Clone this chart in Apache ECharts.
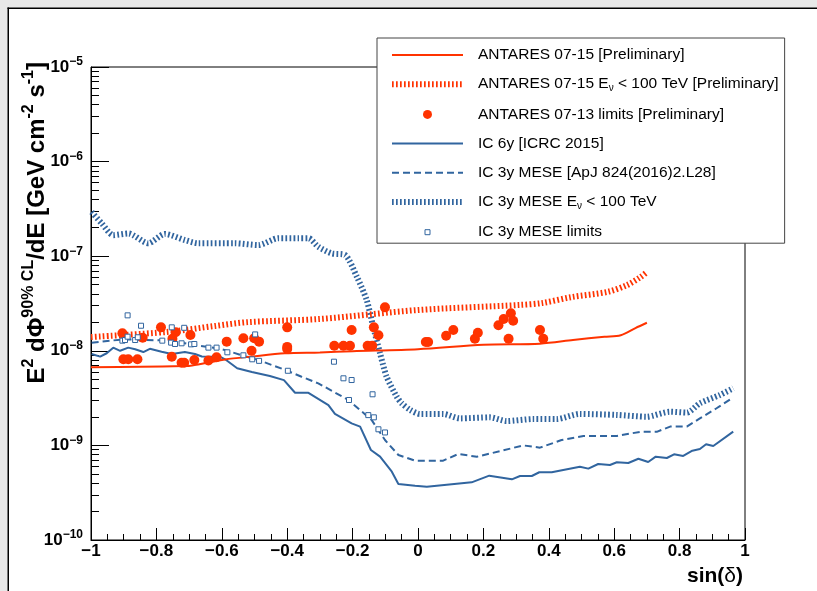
<!DOCTYPE html>
<html>
<head>
<meta charset="utf-8">
<script src="https://cdn.jsdelivr.net/npm/echarts@6/dist/echarts.min.js"></script>
<style>
  html, body { margin: 0; padding: 0; background: #fff; }
  #chart { width: 817px; height: 591px; }
</style>
</head>
<body>
<div id="chart"></div>
<script>
// Point-source 90% CL flux upper limits versus sin(declination)

// ANTARES 2007-2015 sensitivity curve
const antares0715 = [
  [-1, 6.7e-9], [-0.85, 6.8e-9], [-0.713, 6.9e-9], [-0.691, 7.0e-9], [-0.59, 8.1e-9],
  [-0.508, 8.7e-9], [-0.407, 9.4e-9], [-0.3, 9.6e-9], [-0.2, 9.9e-9], [0, 1.04e-8],
  [0.2, 1.16e-8], [0.373, 1.19e-8], [0.474, 1.30e-8], [0.57, 1.41e-8], [0.62, 1.46e-8],
  [0.665, 1.74e-8], [0.70, 1.98e-8]
];

// ANTARES 2007-2015, E_nu < 100 TeV
const antares0715Low = [
  [-1, 1.40e-8], [-0.77, 1.58e-8], [-0.62, 1.83e-8], [-0.52, 2.01e-8], [-0.3, 2.17e-8],
  [0, 2.70e-8], [0.31, 3.05e-8], [0.38, 3.2e-8], [0.47, 3.7e-8], [0.58, 4.2e-8],
  [0.64, 4.97e-8], [0.68, 6.0e-8], [0.70, 6.8e-8]
];

// ANTARES 2007-2013 limits on candidate sources
const antares0713Limits = [
  [-0.904, 1.53e-8], [-0.901, 8.13e-9], [-0.886, 8.13e-9], [-0.858, 8.13e-9], [-0.842, 1.375e-8],
  [-0.786, 1.77e-8], [-0.753, 8.67e-9], [-0.751, 1.34e-8], [-0.741, 1.57e-8], [-0.723, 7.48e-9],
  [-0.715, 7.48e-9], [-0.696, 1.47e-8], [-0.684, 8.0e-9], [-0.641, 7.9e-9], [-0.616, 8.53e-9],
  [-0.585, 1.25e-8], [-0.534, 1.355e-8], [-0.509, 1.0e-8], [-0.501, 1.355e-8], [-0.486, 1.25e-8],
  [-0.4, 1.77e-8], [-0.4, 1.1e-8], [-0.4, 1.045e-8], [-0.256, 1.13e-8], [-0.228, 1.13e-8],
  [-0.208, 1.13e-8], [-0.203, 1.66e-8], [-0.154, 1.13e-8], [-0.14, 1.13e-8], [-0.135, 1.77e-8],
  [-0.121, 1.46e-8], [-0.101, 2.88e-8], [0.024, 1.24e-8], [0.031, 1.24e-8], [0.086, 1.445e-8],
  [0.108, 1.66e-8], [0.174, 1.34e-8], [0.183, 1.55e-8], [0.246, 1.86e-8], [0.262, 2.17e-8],
  [0.284, 2.49e-8], [0.291, 2.08e-8], [0.277, 1.34e-8], [0.373, 1.66e-8], [0.383, 1.34e-8]
];

// IceCube 6 years (ICRC 2015)
const ic6y = [
  [-0.998, 9.25e-9], [-0.972, 8.67e-9], [-0.952, 9.42e-9], [-0.932, 1.08e-8], [-0.911, 1.0e-8],
  [-0.886, 1.08e-8], [-0.865, 1.04e-8], [-0.84, 9.7e-9], [-0.82, 1.05e-8], [-0.784, 9.78e-9],
  [-0.753, 9.25e-9], [-0.713, 9.7e-9], [-0.682, 9.25e-9], [-0.661, 8.7e-9], [-0.606, 8.67e-9],
  [-0.59, 8.13e-9], [-0.553, 6.53e-9], [-0.508, 5.97e-9], [-0.453, 5.42e-9], [-0.41, 4.9e-9],
  [-0.376, 3.6e-9], [-0.335, 3.6e-9], [-0.274, 2.67e-9], [-0.254, 2.15e-9], [-0.203, 1.71e-9],
  [-0.177, 1.58e-9], [-0.144, 8.94e-10], [-0.116, 7.6e-10], [-0.08, 5.27e-10], [-0.06, 3.91e-10],
  [-0.009, 3.75e-10], [0.027, 3.66e-10], [0.164, 4.07e-10], [0.218, 4.79e-10], [0.287, 4.38e-10],
  [0.312, 4.75e-10], [0.348, 4.75e-10], [0.371, 5.2e-10], [0.409, 5.2e-10], [0.495, 5.96e-10],
  [0.521, 5.68e-10], [0.551, 6.36e-10], [0.587, 6.2e-10], [0.608, 6.63e-10], [0.643, 6.52e-10],
  [0.674, 7.23e-10], [0.704, 6.67e-10], [0.727, 7.6e-10], [0.761, 7.36e-10], [0.783, 8.05e-10],
  [0.811, 7.73e-10], [0.839, 8.79e-10], [0.862, 9.16e-10], [0.881, 1.03e-9], [0.903, 9.87e-10],
  [0.964, 1.40e-9]
];

// IceCube 3 years MESE (ApJ 824 (2016) L28)
const ic3yMese = [
  [-0.998, 1.22e-8], [-0.902, 1.32e-8], [-0.784, 1.29e-8], [-0.713, 1.20e-8], [-0.679, 1.14e-8],
  [-0.612, 1.06e-8], [-0.587, 1.01e-8], [-0.526, 8.7e-9], [-0.489, 8.0e-9], [-0.407, 6.3e-9],
  [-0.356, 5.32e-9], [-0.305, 4.53e-9], [-0.213, 3.02e-9], [-0.142, 1.86e-9], [-0.101, 1.14e-9],
  [-0.06, 7.92e-10], [-0.009, 6.9e-10], [0.077, 6.9e-10], [0.123, 8.1e-10], [0.18, 7.6e-10],
  [0.251, 8.7e-10], [0.322, 1.0e-9], [0.373, 9.46e-10], [0.439, 1.14e-9], [0.506, 1.26e-9],
  [0.608, 1.26e-9], [0.679, 1.39e-9], [0.73, 1.39e-9], [0.771, 1.58e-9], [0.822, 1.58e-9],
  [0.862, 1.93e-9], [0.913, 2.47e-9], [0.964, 3.22e-9]
];

// IceCube 3 years MESE, E_nu < 100 TeV
const ic3yMeseLow = [
  [-0.998, 2.93e-7], [-0.967, 2.22e-7], [-0.932, 1.67e-7], [-0.886, 1.74e-7], [-0.825, 1.37e-7],
  [-0.774, 1.72e-7], [-0.713, 1.48e-7], [-0.672, 1.37e-7], [-0.56, 1.37e-7], [-0.488, 1.31e-7],
  [-0.427, 1.55e-7], [-0.366, 1.55e-7], [-0.335, 1.55e-7], [-0.305, 1.26e-7], [-0.264, 1.07e-7],
  [-0.223, 1.03e-7], [-0.187, 6.07e-8], [-0.157, 3.44e-8], [-0.137, 1.80e-8], [-0.116, 9.4e-9],
  [-0.096, 5.33e-9], [-0.065, 3.27e-9], [-0.05, 2.79e-9], [-0.024, 2.37e-9], [0.006, 2.15e-9],
  [0.077, 2.15e-9], [0.128, 1.93e-9], [0.22, 1.98e-9], [0.271, 1.81e-9], [0.353, 1.90e-9],
  [0.424, 1.90e-9], [0.495, 2.15e-9], [0.608, 2.10e-9], [0.699, 2.01e-9], [0.771, 2.27e-9],
  [0.822, 2.22e-9], [0.862, 2.79e-9], [0.923, 3.41e-9], [0.964, 4.02e-9]
];

// IceCube 3 years MESE limits on candidate sources
const ic3yMeseLimits = [
  [-0.888, 2.37e-8], [-0.847, 1.84e-8], [-0.904, 1.28e-8], [-0.896, 1.30e-8], [-0.888, 1.41e-8],
  [-0.865, 1.30e-8], [-0.857, 1.39e-8], [-0.782, 1.28e-8], [-0.753, 1.77e-8], [-0.715, 1.75e-8],
  [-0.755, 1.22e-8], [-0.743, 1.18e-8], [-0.723, 1.20e-8], [-0.694, 1.17e-8], [-0.684, 1.18e-8],
  [-0.641, 1.08e-8], [-0.616, 1.08e-8], [-0.583, 9.64e-9], [-0.534, 8.96e-9], [-0.498, 1.49e-8],
  [-0.507, 8.13e-9], [-0.486, 7.83e-9], [-0.398, 6.15e-9], [-0.257, 7.67e-9], [-0.228, 5.12e-9],
  [-0.203, 4.91e-9], [-0.211, 3.02e-9], [-0.139, 3.47e-9], [-0.152, 2.09e-9], [-0.135, 1.98e-9],
  [-0.121, 1.48e-9], [-0.101, 1.37e-9]
];

// Axis ticks
const xTickValues = [-1, -0.8, -0.6, -0.4, -0.2, 0, 0.2, 0.4, 0.6, 0.8, 1];
const xTickLabels = ['\u22121', '\u22120.8', '\u22120.6', '\u22120.4', '\u22120.2', '0', '0.2', '0.4', '0.6', '0.8', '1'];
const yTickExponents = [-10, -9, -8, -7, -6, -5];
const yTickLabels = ['\u221210', '\u22129', '\u22128', '\u22127', '\u22126', '\u22125'];

// Series names as shown in the legend
const names = [
  'ANTARES 07-15 [Preliminary]',
  'ANTARES 07-15 E\u03bd < 100 TeV [Preliminary]',
  'ANTARES 07-13 limits [Preliminary]',
  'IC 6y [ICRC 2015]',
  'IC 3y MESE [ApJ 824(2016)2.L28]',
  'IC 3y MESE E\u03bd < 100 TeV',
  'IC 3y MESE limits'
];

const RED = '#ff3300';
const BLUE = '#31659f';
const FONT = '"Liberation Sans", Arial, Helvetica, sans-serif';
const THICK_DOTS = [1.7, 2.3];
const DASHES = [7, 4];

// log-axis secondary ticks at 2..9 x 10^n
const yMinorTicks = [];
for (let i = 0; i < yTickExponents.length - 1; i++) {
  for (let k = 2; k <= 9; k++) yMinorTicks.push(k * Math.pow(10, yTickExponents[i]));
}

function legendLabel(name) {
  const parts = name.split('E\u03bd');
  if (parts.length === 1) return '{t|' + name + '}';
  return '{t|' + parts[0] + 'E}{sub|\u03bd}{t|' + parts[1] + '}';
}

function yLabel(value) {
  const e = Math.round(Math.log10(value));
  const i = yTickExponents.indexOf(e);
  return i < 0 ? '' : '{b|10}{s|' + yTickLabels[i] + '}';
}

function xLabel(value) {
  const i = xTickValues.findIndex(v => Math.abs(v - value) < 1e-9);
  return i < 0 ? '' : xTickLabels[i];
}

const chart = echarts.init(document.getElementById('chart'), null, { renderer: 'canvas' });

const option = {
  animation: false,
  backgroundColor: '#fff',
  textStyle: { fontFamily: FONT },
  grid: {
    left: 91, top: 67, right: 72, bottom: 51,
    containLabel: false, outerBoundsMode: 'none',
    show: true, borderColor: '#000', borderWidth: 1, backgroundColor: 'transparent'
  },
  xAxis: {
    type: 'value', min: -1, max: 1, interval: 0.2,
    axisLine: { show: true, onZero: false, lineStyle: { color: '#000', width: 1 } },
    axisTick: { show: true, inside: true, length: 12, lineStyle: { color: '#000', width: 1 } },
    minorTick: { show: true, splitNumber: 4, length: 6, lineStyle: { color: '#000', width: 1 } },
    splitLine: { show: false },
    axisLabel: {
      show: true, margin: 3, color: '#000', fontFamily: FONT, fontWeight: 'bold', fontSize: 17,
      showMinLabel: true, showMaxLabel: true, hideOverlap: false,
      formatter: xLabel
    }
  },
  yAxis: [{
    type: 'log', logBase: 10, min: 1e-10, max: 1e-5,
    axisLine: { show: true, onZero: false, lineStyle: { color: '#000', width: 1 } },
    axisTick: { show: true, inside: true, length: 18, lineStyle: { color: '#000', width: 1 } },
    splitLine: { show: false },
    axisLabel: {
      show: true, margin: 8, color: '#000', showMinLabel: true, showMaxLabel: true,
      formatter: yLabel,
      rich: {
        b: { fontFamily: FONT, fontWeight: 'bold', fontSize: 17, lineHeight: 22, color: '#000' },
        s: { fontFamily: FONT, fontWeight: 'bold', fontSize: 12, lineHeight: 7, verticalAlign: 'top', color: '#000' }
      }
    }
  }, {
    // secondary log ticks, drawn on the same left edge
    type: 'log', logBase: 10, min: 1e-10, max: 1e-5, position: 'left', offset: 0,
    axisLine: { show: false, onZero: false },
    axisLabel: { show: false },
    splitLine: { show: false },
    axisTick: { show: true, inside: true, length: 8, customValues: yMinorTicks, lineStyle: { color: '#000', width: 1 } }
  }],
  legend: {
    show: true, orient: 'vertical', left: 377, top: 38,
    padding: [9, 6, 3, 12],
    itemWidth: 71, itemHeight: 9, itemGap: 13.2,
    backgroundColor: '#fff', borderColor: '#444', borderWidth: 1, borderRadius: 0,
    selectedMode: false,
    formatter: legendLabel,
    textStyle: {
      color: '#000', fontFamily: FONT, fontSize: 15.5, padding: [0, 0, 0, 10],
      rich: {
        t: { fontFamily: FONT, fontSize: 15.5, lineHeight: 18, color: '#000' },
        sub: { fontFamily: FONT, fontSize: 10, lineHeight: 2, verticalAlign: 'bottom', color: '#000' }
      }
    },
    data: [
      { name: names[0], itemStyle: { opacity: 0 }, lineStyle: { color: RED, width: 2, type: 'solid' } },
      { name: names[1], itemStyle: { opacity: 0 }, lineStyle: { color: RED, width: 6, type: THICK_DOTS } },
      { name: names[2], icon: 'circle', itemStyle: { color: RED } },
      { name: names[3], itemStyle: { opacity: 0 }, lineStyle: { color: BLUE, width: 2, type: 'solid' } },
      { name: names[4], itemStyle: { opacity: 0 }, lineStyle: { color: BLUE, width: 2, type: DASHES } },
      { name: names[5], itemStyle: { opacity: 0 }, lineStyle: { color: BLUE, width: 6, type: THICK_DOTS } },
      { name: names[6], icon: 'path://M0,0M9,9M2,2L7,2L7,7L2,7Z', itemStyle: { color: '#fff', borderColor: BLUE, borderWidth: 1 } }
    ]
  },
  series: [
    {
      name: names[5], type: 'line', data: ic3yMeseLow, symbol: 'none', smooth: 0.25,
      lineStyle: { color: BLUE, width: 6, type: THICK_DOTS, cap: 'butt' }, itemStyle: { color: BLUE }, z: 2
    },
    {
      name: names[4], type: 'line', data: ic3yMese, symbol: 'none',
      lineStyle: { color: BLUE, width: 2, type: DASHES }, itemStyle: { color: BLUE }, z: 2
    },
    {
      name: names[3], type: 'line', data: ic6y, symbol: 'none',
      lineStyle: { color: BLUE, width: 2 }, itemStyle: { color: BLUE }, z: 2
    },
    {
      name: names[1], type: 'line', data: antares0715Low, symbol: 'none', smooth: 0.3,
      lineStyle: { color: RED, width: 6, type: THICK_DOTS, cap: 'butt' }, itemStyle: { color: RED }, z: 3
    },
    {
      name: names[0], type: 'line', data: antares0715, symbol: 'none', smooth: 0.3,
      lineStyle: { color: RED, width: 2 }, itemStyle: { color: RED }, z: 3
    },
    {
      name: names[2], type: 'scatter', data: antares0713Limits, symbol: 'circle', symbolSize: 10,
      itemStyle: { color: RED, opacity: 1 }, z: 4
    },
    {
      name: names[6], type: 'scatter', data: ic3yMeseLimits, symbol: 'rect', symbolSize: 5,
      itemStyle: { color: '#fff', borderColor: BLUE, borderWidth: 1, opacity: 1 }, z: 5
    }
  ],
  graphic: [
    // canvas frame
    { type: 'rect', silent: true, z: 100, shape: { x: 0, y: 0, width: 817, height: 8 }, style: { fill: '#e8e8e8' } },
    { type: 'rect', silent: true, z: 100, shape: { x: 0, y: 0, width: 8, height: 591 }, style: { fill: '#e8e8e8' } },
    { type: 'line', silent: true, z: 101, shape: { x1: 7.5, y1: 8.25, x2: 817, y2: 8.25 }, style: { stroke: '#000', lineWidth: 1.5 } },
    { type: 'line', silent: true, z: 101, shape: { x1: 8.25, y1: 7.5, x2: 8.25, y2: 591 }, style: { stroke: '#000', lineWidth: 1.5 } },
    // y-axis title
    {
      type: 'text', silent: true, z: 50, x: 37, y: 62, rotation: Math.PI / 2,
      style: {
        text: '{m|E}{p|2}{m| d\u03a6}{p|90% CL}{m|/dE [GeV cm}{p|-2}{m| s}{p|-1}{m|]}',
        align: 'right', verticalAlign: 'middle', fill: '#000',
        rich: {
          m: { fontFamily: FONT, fontWeight: 'bold', fontSize: 24, lineHeight: 32, fill: '#000', color: '#000' },
          p: { fontFamily: FONT, fontWeight: 'bold', fontSize: 16, lineHeight: 4, verticalAlign: 'top', fill: '#000', color: '#000' }
        }
      }
    },
    // x-axis title
    {
      type: 'text', silent: true, z: 50, x: 743, y: 576,
      style: {
        text: '{b|sin(}{d|\u03b4}{b|)}',
        align: 'right', verticalAlign: 'middle', fill: '#000',
        rich: {
          b: { fontFamily: FONT, fontWeight: 'bold', fontSize: 21, lineHeight: 24, fill: '#000', color: '#000' },
          d: { fontFamily: FONT, fontWeight: 'normal', fontSize: 21, lineHeight: 24, fill: '#000', color: '#000' }
        }
      }
    }
  ]
};

chart.setOption(option);
</script>
</body>
</html>
